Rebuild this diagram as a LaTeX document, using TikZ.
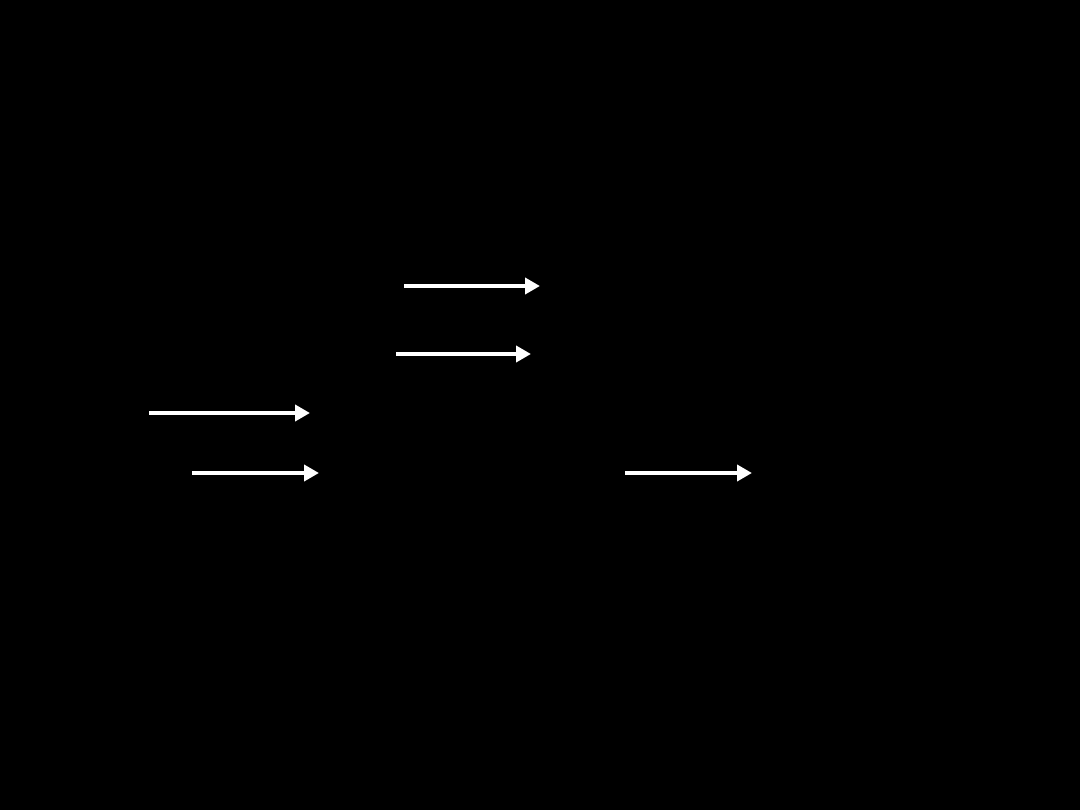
\documentclass[tikz,border=0pt]{standalone}
\usetikzlibrary{arrows.meta}
\begin{document}
\begin{tikzpicture}[x=1pt,y=-1pt,
  arrowline/.style={draw=white,line width=4.5pt,-{Triangle[length=15pt,width=16pt]}}]
\fill[black] (0,0) rectangle (1080,810);
\useasboundingbox (0,0) rectangle (1080,810);
\coordinate (a1) at (404,286); \coordinate (b1) at (540,286);
\coordinate (a2) at (396,354); \coordinate (b2) at (531,354);
\coordinate (a3) at (149,413); \coordinate (b3) at (310,413);
\coordinate (a4) at (192,473); \coordinate (b4) at (319,473);
\coordinate (a5) at (625,473); \coordinate (b5) at (752,473);
\draw[arrowline] (a1) -- (b1);
\draw[arrowline] (a2) -- (b2);
\draw[arrowline] (a3) -- (b3);
\draw[arrowline] (a4) -- (b4);
\draw[arrowline] (a5) -- (b5);
\end{tikzpicture}
\end{document}
